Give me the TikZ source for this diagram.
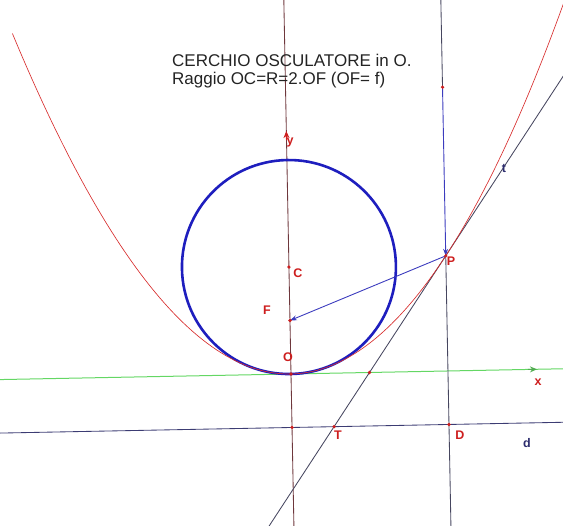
\documentclass[tikz,border=0pt]{standalone}
\usepackage{fontspec}
\setmainfont{Liberation Sans}
\usetikzlibrary{calc,arrows.meta}
\definecolor{axbrown}{RGB}{110,55,60}
\definecolor{lgray}{RGB}{70,70,95}
\definecolor{navy}{RGB}{45,45,110}
\definecolor{dline}{RGB}{60,60,115}
\definecolor{cblue}{RGB}{30,30,190}
\definecolor{pred}{RGB}{215,45,45}
\definecolor{lred}{RGB}{205,30,30}
\definecolor{lgreen}{RGB}{100,215,100}
\definecolor{vblue}{RGB}{60,60,190}
\definecolor{ttext}{RGB}{35,35,35}
\tikzset{
  ptdot/.style={circle,fill=lred,inner sep=0pt,minimum size=3.6pt},
  lbl/.style={text=lred,font=\fontsize{12.5}{14}\selectfont\bfseries,inner sep=0pt},
  nlbl/.style={text=navy,font=\fontsize{12.5}{14}\selectfont\bfseries,inner sep=0pt},
  thinline/.style={line width=0.85pt},
  vec/.style={vblue,line width=0.9pt,-{Stealth[length=7pt,width=5pt]}},
  titletext/.style={text=ttext,font=\fontsize{17}{19}\selectfont,inner sep=0pt,anchor=base west},
}
\begin{document}
\begin{tikzpicture}[x=1pt,y=1pt]
\useasboundingbox (0,0) rectangle (563,526);
\clip (0,0) rectangle (563,526);
\begin{scope}[shift={(291,152)},rotate=1.1]
  \coordinate (O) at (0,0);
  \coordinate (F) at (0,53.5);
  \coordinate (C) at (0,107);
  \coordinate (P) at (157,115.18);
  \coordinate (Q) at (157,283.86);
  \coordinate (D) at (157,-53.5);
  \coordinate (T) at (42.04,-53.5);
  \coordinate (M) at (78.5,0);
  \coordinate (K) at (0,-53.5);
  \coordinate (Ytop) at (0,420);
  \coordinate (Ybot) at (0,-420);
  \coordinate (Yarr) at (0,243);
  \coordinate (Xl) at (-420,0);
  \coordinate (Xr) at (420,0);
  \coordinate (Xarr) at (246,0);
  \coordinate (Dl) at (-420,-53.5);
  \coordinate (Dr) at (420,-53.5);
  \coordinate (Vtop) at (157,420);
  \coordinate (Vbot) at (157,-420);
  % axes
  \draw[axbrown,thinline] (Ybot) -- (Ytop);
  \draw[lred,line width=1pt,-{Stealth[length=7pt,width=6pt]}] ($(Yarr)+(0,-9)$) -- (Yarr);
  \draw[lgreen,line width=1pt] (Xl) -- (Xr);
  \draw[lgreen!80!black,line width=1pt,-{Stealth[length=7pt,width=6pt]}] ($(Xarr)+(-9,0)$) -- (Xarr);
  % directrix
  \draw[dline,thinline] (Dl) -- (Dr);
  % vertical through P
  \draw[lgray,thinline] (Q) -- (Vtop);
  \draw[lgray,thinline] (P) -- (Vbot);
  % tangent
  \draw[lgray,thinline] ($(T)!-3!(P)$) -- ($(T)!4!(P)$);
  % osculating circle
  \draw[cblue,line width=2.6pt] (C) circle[radius=107];
  % parabola
  \draw[pred,line width=0.65pt,domain=-272:290,samples=120] plot (\x,{(\x/214)*\x});
  % vectors
  \draw[vec] (Q) -- (P);
  \draw[vec] (P) -- (F);
  % points
  \foreach \p in {O,F,C,P,Q,D,T,M,K} \node[ptdot] at (\p) {};
\end{scope}
% labels
\node[lbl] (ly) at (290,383) {y};
\node[lbl] (lC) at (298,253) {C};
\node[lbl] (lF) at (267,216) {F};
\node[lbl] (lO) at (288,169) {O};
\node[lbl] (lP) at (451,265) {P};
\node[nlbl] (lt) at (504,358) {t};
\node[lbl] (lT) at (338,91) {T};
\node[lbl] (lD) at (460,91) {D};
\node[nlbl] (ld) at (527,83) {d};
\node[lbl] (lx) at (538,144) {x};
\node[titletext] (t1) at (172,459.3) {CERCHIO OSCULATORE in O.};
\node[titletext] (t2) at (172,441) {Raggio OC=R=2.OF (OF= f)};
\end{tikzpicture}
\end{document}
